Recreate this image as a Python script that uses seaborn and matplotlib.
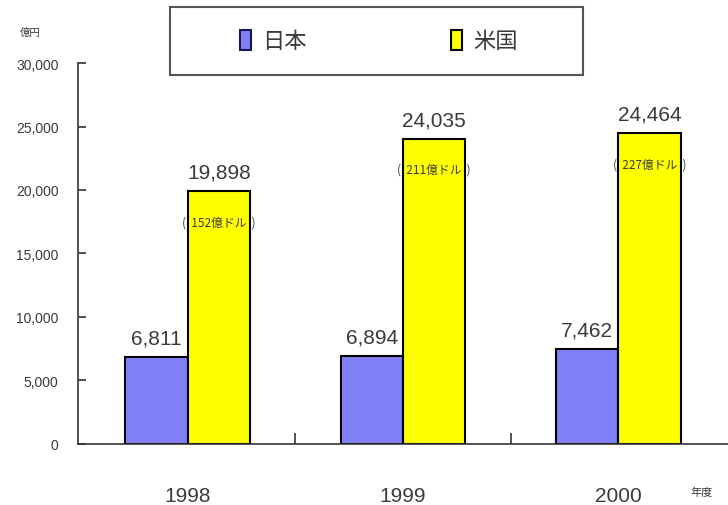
import matplotlib
matplotlib.use("Agg")
import matplotlib.pyplot as plt
from matplotlib.patches import Rectangle, Patch
from matplotlib.ticker import FuncFormatter, MultipleLocator
import seaborn as sns
import pandas as pd

years = ["1998", "1999", "2000"]
countries = ["日本", "米国"]
japan = [6811, 6894, 7462]
usa = [19898, 24035, 24464]
usd_labels = ["(  152億ドル  )", "(  211億ドル  )", "(  227億ドル  )"]
y_unit = "億円"
x_unit = "年度"

JP_COLOR = "#8080F8"
US_COLOR = "#FFFF00"
TEXT = "#3a3a3a"
FONTS = ["Liberation Sans", "Noto Sans CJK JP", "DejaVu Sans"]
CJK = ["Noto Sans CJK JP", "DejaVu Sans"]

sns.set_theme(style="white")
plt.rcParams["font.family"] = FONTS

df = pd.DataFrame({
    "year": years * 2,
    "country": [countries[0]] * 3 + [countries[1]] * 3,
    "value": japan + usa,
})

fig = plt.figure(figsize=(7.28, 5.06), dpi=100)
ax = fig.add_axes([0.107, 0.1206, 0.893, 0.7529])

sns.barplot(data=df, x="year", y="value", hue="country", order=years,
            hue_order=countries, palette=[JP_COLOR, US_COLOR], width=0.58,
            edgecolor="black", linewidth=1.5, saturation=1, legend=False, ax=ax)

ax.set_xlim(-0.51, 2.51)
ax.set_ylim(0, 30000)
ax.yaxis.set_major_locator(MultipleLocator(5000))
ax.yaxis.set_major_formatter(FuncFormatter(lambda v, p: f"{v:,.0f}"))
ax.set_xlabel("")
ax.set_ylabel("")
for s in ["top", "right"]:
    ax.spines[s].set_visible(False)
for s in ["left", "bottom"]:
    ax.spines[s].set_color("#333333")
    ax.spines[s].set_linewidth(1.2)

ax.tick_params(axis="y", direction="in", length=6, width=1.2, color="#333333",
               labelsize=10, labelcolor=TEXT, pad=14, left=True)
ax.tick_params(axis="x", which="major", length=0, labelsize=15, labelcolor=TEXT, pad=30)
ax.set_xticks([0.5, 1.5], minor=True)
ax.tick_params(axis="x", which="minor", direction="in", length=8, width=1.2,
               color="#333333", bottom=True)

for cont in ax.containers:
    ax.bar_label(cont, labels=[f"{v:,.0f}" for v in cont.datavalues],
                 padding=7, fontsize=15, color=TEXT)

us_cont = ax.containers[1]
for bar, lab in zip(us_cont.patches, usd_labels):
    ax.annotate(lab, xy=(bar.get_x() + bar.get_width() / 2, bar.get_height()),
                xytext=(0, -22), textcoords="offset points", ha="center", va="center",
                fontsize=8.5, color=TEXT, family=CJK)

fig.text(0.042, 0.935, y_unit, fontsize=7.5, color=TEXT, ha="center", va="center", family=CJK)
fig.text(0.963, 0.026, x_unit, fontsize=8, color=TEXT, ha="center", va="center", family=CJK)

# legend box
fig.patches.append(Rectangle((0.2335, 0.850), 0.5675, 0.134, transform=fig.transFigure,
                             fill=False, edgecolor="#555555", linewidth=1.5))
handles = [Patch(facecolor=JP_COLOR, edgecolor="#1a1a4a", linewidth=1.5, label=countries[0]),
           Patch(facecolor=US_COLOR, edgecolor="black", linewidth=1.5, label=countries[1])]
fig.legend(handles=handles, loc="center", bbox_to_anchor=(0.2335 + 0.5675 / 2 + 0.003, 0.917),
           ncol=2, frameon=False, handlelength=0.5, handleheight=1.0, handletextpad=0.5,
           columnspacing=6.5, prop={"family": CJK, "size": 16}, labelcolor=TEXT)

fig.savefig("out.png", dpi=100)
